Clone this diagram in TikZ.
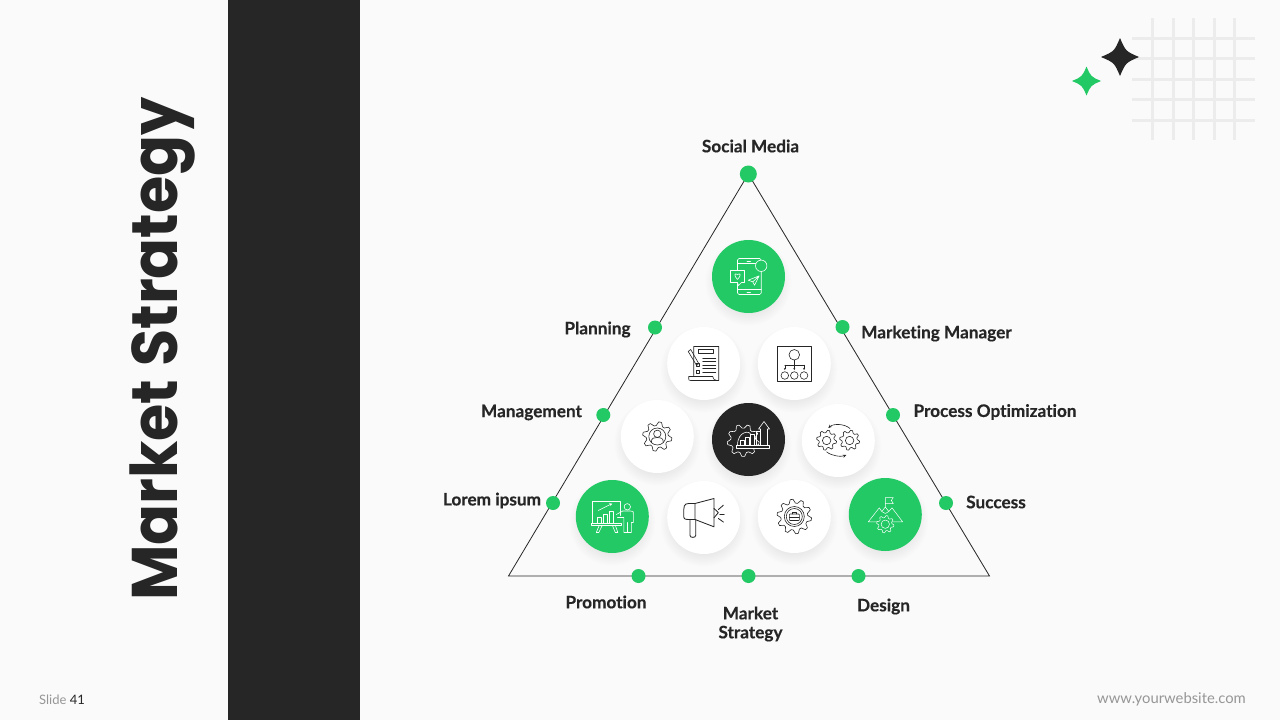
\documentclass[tikz,border=0pt]{standalone}
\usepackage{fontspec}
\setmainfont{Lato}[Ligatures=NoCommon]
\newfontfamily\labfont{Lato}[Ligatures=NoCommon,BoldFeatures={FakeBold=0.35}]
\newfontfamily\titlefont{Poppins}
\usetikzlibrary{arrows.meta}
\definecolor{bgc}{HTML}{FAFAFA}
\definecolor{darkc}{HTML}{262626}
\definecolor{greenc}{HTML}{22C965}
\definecolor{gridc}{HTML}{ECECEC}
\definecolor{footc}{HTML}{969696}
\tikzset{
  disc/.style={circle,minimum size=73pt,inner sep=0pt,draw=none},
  dotn/.style={circle,minimum size=14pt,inner sep=0pt,fill=greenc,draw=none},
  lab/.style={font=\labfont\fontsize{17.2}{19}\selectfont\bfseries,text=darkc,inner sep=0pt,align=center},
  ico/.style={line width=0.6pt,line join=round,line cap=round},
  gridl/.style={draw=gridc,line width=3pt},
}
% soft shadow + disc
\newcommand\softdisc[4]{%
  \foreach \rr in {28,29.5,...,44}{\fill[black,opacity=0.0095] (#2,#3+6) circle[radius=\rr];}
  \node[disc,fill=#4] (#1) at (#2,#3) {};}
% gear outline: options, cx, cy, outer, inner, teeth
\newcommand\gearico[6]{%
  \draw[#1] plot[domain=0:360,samples=\numexpr 4*#6+1\relax,variable=\t]
   ({#2+(#5+(#4-#5)*(mod(round(\t/(90/#6))+16*#6,4)<2))*cos(\t+45/#6)},
    {#3+(#5+(#4-#5)*(mod(round(\t/(90/#6))+16*#6,4)<2))*sin(\t+45/#6)}) -- cycle;}
\newcommand\starshape[4]{%
  \fill[#1] (#2,#3-#4) .. controls (#2+0.3*#4,#3-0.3*#4) .. (#2+#4,#3)
   .. controls (#2+0.3*#4,#3+0.3*#4) .. (#2,#3+#4)
   .. controls (#2-0.3*#4,#3+0.3*#4) .. (#2-#4,#3)
   .. controls (#2-0.3*#4,#3-0.3*#4) .. cycle;}
\begin{document}
\begin{tikzpicture}[x=1pt,y=-1pt]
\useasboundingbox (0,0) rectangle (1280,720);
\fill[bgc] (0,0) rectangle (1280,720);
\fill[darkc] (228,0) rectangle (360,720);
% title
\node[rotate=90,xscale=0.937,font=\titlefont\fontsize{64.5}{70}\selectfont\bfseries,text=darkc,inner sep=0pt] (title) at (163,349) {Market Strategy};
% decor grid
\foreach \gx in {1152.3,1173.3,1193.5,1214.3,1234.3}{\draw[gridl] (\gx,18) -- (\gx,140);}
\foreach \gy in {38.3,58.3,79.3,99.3,120.3}{\draw[gridl] (1132,\gy) -- (1255,\gy);}
\starshape{darkc}{1120}{57}{19}
\starshape{greenc}{1086.5}{81}{14.5}
% triangle
\coordinate (tA) at (748.3,174);
\coordinate (tB) at (508.5,576);
\coordinate (tC) at (989.5,576);
\draw[darkc,line width=0.8pt] (tA) -- (tB) -- (tC) -- cycle;
% dots
\node[dotn,minimum size=17pt] (d1) at (748.3,174) {};
\node[dotn] (d2) at (655,327.5) {};
\node[dotn] (d3) at (842.5,327) {};
\node[dotn] (d4) at (603.3,415) {};
\node[dotn] (d5) at (893,415) {};
\node[dotn] (d6) at (553,503) {};
\node[dotn] (d7) at (946,503) {};
\node[dotn] (d8) at (638.5,576) {};
\node[dotn] (d9) at (748.5,576) {};
\node[dotn] (d10) at (858.5,576) {};
% discs
\softdisc{c1}{748.5}{276.5}{greenc}
\softdisc{c2}{703.7}{363.5}{white}
\softdisc{c3}{794.3}{363.5}{white}
\softdisc{c4}{657.3}{436.5}{white}
\softdisc{c5}{748.5}{439.5}{darkc}
\softdisc{c6}{838.3}{440.5}{white}
\softdisc{c7}{612.3}{516.5}{greenc}
\softdisc{c8}{703.7}{517.5}{white}
\softdisc{c9}{794.3}{516.5}{white}
\softdisc{c10}{885.3}{514.5}{greenc}
% icon 1: phone
\begin{scope}[shift={(748.5,276.5)},ico,draw=white]
 \draw[rounded corners=1.5pt] (-11,-18) rectangle (12.7,18);
 \draw (-11,-13) -- (12.7,-13) (-11,13) -- (12.7,13) (-1.5,-15.5) -- (2,-15.5) (-1.5,15.5) -- (2,15.5);
 \fill[greenc] (12.7,-10.7) circle[radius=5.7];
 \draw (12.7,-10.7) circle[radius=5.7];
 \draw[fill=greenc] (-18,-6) -- (-4,-6) -- (-4,6) -- (-7,6) -- (-10,9) -- (-11,6) -- (-18,6) -- cycle;
 \draw (-11,3) .. controls (-15,-1) and (-14,-4) .. (-11,-2) .. controls (-8,-4) and (-7,-1) .. (-11,3);
 \draw (10.7,-0.7) -- (-0.3,3.7) -- (4.3,5.3) -- (6,8.7) -- cycle (10.7,-0.7) -- (4.3,5.3);
\end{scope}
% icon 2: document
\begin{scope}[shift={(703.7,363.5)},ico,draw=darkc]
 \draw (-10,12) -- (-10,-17) -- (15,-17) -- (15,17) -- (-13,17) .. controls (-15,17) .. (-15,13) -- (9,13) .. controls (10,16) .. (13,17);
 \draw (-5,-14) rectangle (10,-10);
 \foreach \yy in {-5.7,-2,1.7,5,8.3}{\draw (-1,\yy) -- (12,\yy);}
 \draw (-7,-0.5) rectangle (-4,2.5) (-7,6.5) rectangle (-4,9.5);
 \draw (-15.5,-12) -- (-13,-14) -- (-5,-0) -- (-7,2) -- cycle;
\end{scope}
% icon 3: org chart
\begin{scope}[shift={(794.3,363.5)},ico,draw=darkc]
 \draw (-17,-17) rectangle (17.3,18);
 \draw (0,-8.7) circle[radius=5.3];
 \foreach \xx in {-9.5,0,9.7}{\draw (\xx,12) circle[radius=3.8];
   \draw[-{Stealth[length=2pt,width=2pt]}] (\xx,1.7) -- (\xx,6.5);}
 \draw (0,-3.4) -- (0,1.7) (-9.5,1.7) -- (9.7,1.7);
\end{scope}
% icon 4: gear + person
\gearico{ico,draw=darkc}{657.3}{436.5}{14.7}{11}{8}
\begin{scope}[shift={(657.3,436.5)},ico,draw=darkc]
 \draw (0,0) circle[radius=8.5];
 \draw (0,-2.7) circle[radius=3.7];
 \draw (-6,6) .. controls (-6,1) and (-3,1) .. (0,1) .. controls (3,1) and (6,1) .. (6,6);
\end{scope}
% icon 5: central gear + chart
\gearico{ico,draw=white}{743.2}{440.5}{16}{12.5}{9}
\begin{scope}[shift={(748.5,439.5)},ico,draw=white]
 \draw[fill=darkc] (-12,6) -- (21,6) -- (21,8.5) -- (-12,8.5) -- cycle;
 \draw (-11,6) .. controls (-11,-9) and (2,-9) .. (2,-5);
 \draw (-8,6) -- (-8,1) -- (-4,1) -- (-4,6) (-3,6) -- (-3,-2) -- (1,-2) -- (1,6) (2,6) -- (2,-5) -- (6,-5) -- (6,6);
 \draw (12,6) -- (12,-10.5) -- (10,-10.5) -- (15.5,-18) -- (21,-10.5) -- (19,-10.5) -- (19,6);
 \draw (8,6) -- (8,-8) -- (12,-8);
\end{scope}
% icon 6: two gears with arrows
\gearico{ico,draw=darkc}{826.6}{440.2}{10}{7.6}{8}
\gearico{ico,draw=darkc}{849.6}{440.2}{10}{7.6}{8}
\begin{scope}[shift={(838.3,440.5)},ico,draw=darkc]
 \draw (-11.7,0) circle[radius=4.2] (11.3,0) circle[radius=4.2];
 \draw[-{Stealth[length=3.5pt,width=3pt]}] (11.7,-12) .. controls (6,-17) and (-5,-17) .. (-10,-12.5);
 \draw[-{Stealth[length=3.5pt,width=3pt]}] (-11.7,11.3) .. controls (-7,15.5) and (3,16.5) .. (8,14.5);
\end{scope}
% icon 7: presentation
\begin{scope}[shift={(612.3,516.5)},ico,draw=white]
 \draw (-19.7,6.3) -- (-19.7,-15.7) -- (7.7,-15.7) -- (7.7,-1);
 \draw (-21,6.3) rectangle (9.3,8.7);
 \draw (-13,8.7) -- (-16,16) -- (-13.5,16) -- (-10,8.7) (0,8.7) -- (3,16) -- (5.5,16) -- (3,8.7);
 \draw (-15,6.3) -- (-15,1) -- (-11,1) -- (-11,6.3) (-9,6.3) -- (-9,-2) -- (-5,-2) -- (-5,6.3) (-3,6.3) -- (-3,-5) -- (1,-5) -- (1,6.3);
 \draw[-{Stealth[length=3pt,width=3pt]}] (-14,-6) -- (0,-13);
 \draw (15,-9.7) circle[radius=3.2];
 \draw (4,-2) -- (10.5,-5.5) -- (18,-5.5) .. controls (21,-5.5) .. (21,-2) -- (21,6) -- (19,6) -- (19,16) -- (11.5,16) -- (11.5,1) -- (5,1);
 \draw (15,16) -- (15,6);
\end{scope}
% icon 8: megaphone
\begin{scope}[shift={(703.7,517.5)},draw=darkc,ico,line width=0.85pt]
 \draw (-8.7,-14) -- (-15,-14) .. controls (-20,-14) and (-20,-11) .. (-20,-3) .. controls (-20,1) and (-20,2) .. (-15,2) -- (-8.7,2);
 \draw (-8.7,-14) -- (10.3,-19) -- (10.3,9.3) -- (-8.7,2) -- cycle;
 \draw (-13.7,2) -- (-13.7,18) .. controls (-13.7,20.5) and (-8,20.5) .. (-8,18) -- (-8,2);
 \draw (10.3,-9) -- (14.7,-5) -- (10.3,0.3);
 \draw (14.7,-8) -- (19.7,-12.3) (16,-3) -- (20.5,-3) (14.7,1) -- (19.7,4.5);
\end{scope}
% icon 9: gear + briefcase
\gearico{ico,draw=darkc}{794.3}{516.5}{17.3}{13.5}{10}
\begin{scope}[shift={(794.3,516.5)},ico,draw=darkc]
 \draw (0,0) circle[radius=10] (0,0) circle[radius=8];
 \draw[rounded corners=0.7pt] (-5,-2.5) rectangle (5,4);
 \draw (-2,-2.5) -- (-2,-4.5) -- (2,-4.5) -- (2,-2.5) (-5,0.5) -- (5,0.5);
\end{scope}
% icon 10: mountains + gear + flag
\begin{scope}[shift={(885.3,514.5)},ico,draw=white,line width=0.5pt]
 \draw (0,-7.5) -- (0,-17) -- (8,-17) -- (6,-14) -- (8,-11) -- (0,-11);
 \draw (-17,7.3) -- (-6,-6.7) -- (-3.5,-3) -- (0,-7.5) -- (3.5,-3) -- (6.7,-6.7) -- (17.3,7.3) -- cycle;
 \draw (-3.5,-3) -- (0,-1) -- (3.5,-3);
\end{scope}
\gearico{ico,draw=white,line width=0.5pt,fill=greenc}{885.3}{524.2}{8.7}{6.6}{8}
\draw[ico,draw=white,line width=0.5pt] (885.3,524.2) circle[radius=4.2];
% labels
\node[lab] (l1) at (750.5,146) {Social Media};
\node[lab] (l2) at (597.5,329.5) {Planning};
\node[lab] (l3) at (936.5,333.5) {Marketing Manager};
\node[lab] (l4) at (531.5,412.5) {Management};
\node[lab] (l5) at (995,412) {Process Optimization};
\node[lab] (l6) at (492,500.5) {Lorem ipsum};
\node[lab] (l7) at (996,502) {Success};
\node[lab] (l8) at (606,602) {Promotion};
\node[lab] (l9) at (750.5,624) {Market\\Strategy};
\node[lab] (l10) at (883.5,606.5) {Design};
% footer
\node[font=\fontsize{13}{15}\selectfont,inner sep=0pt,anchor=west] (sl) at (39,699.5) {\textcolor{footc}{Slide} \textcolor{darkc}{41}};
\node[font=\fontsize{14.8}{15}\selectfont,text=footc,inner sep=0pt,anchor=east] (web) at (1246,699.5) {www.yourwebsite.com};
\end{tikzpicture}
\end{document}
